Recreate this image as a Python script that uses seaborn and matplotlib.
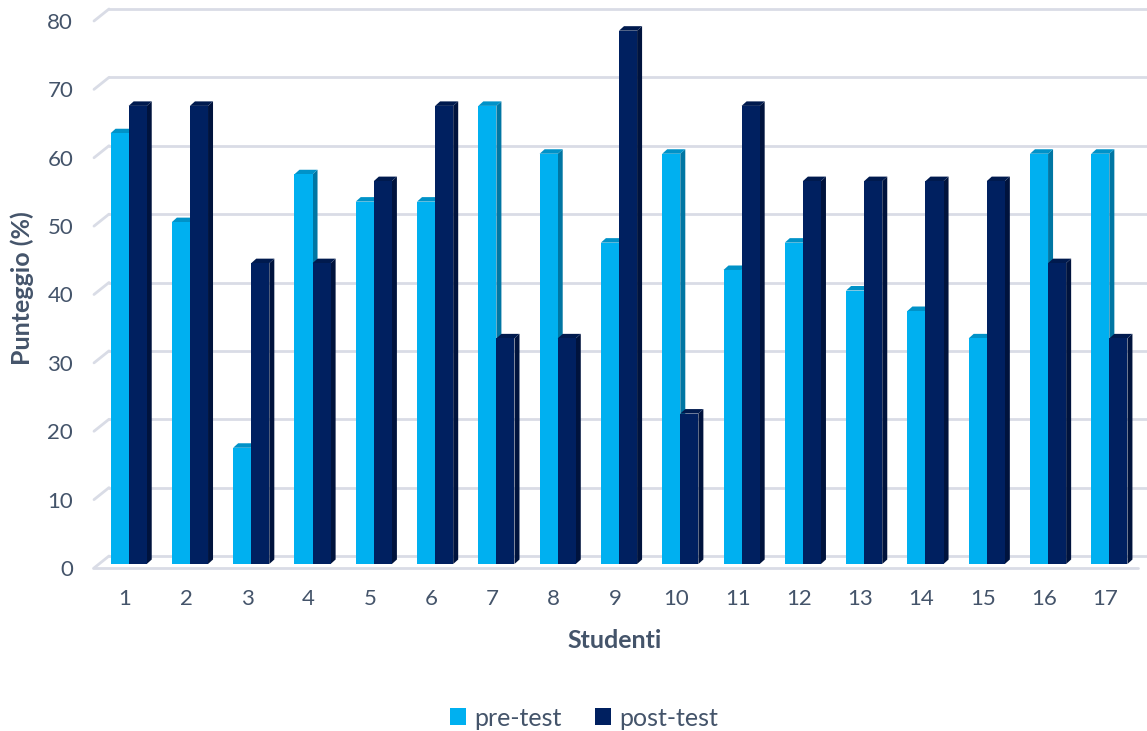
import numpy as np
import pandas as pd
import matplotlib
matplotlib.use("Agg")
import matplotlib.pyplot as plt
from matplotlib.patches import Polygon, Patch
from matplotlib.lines import Line2D
import seaborn as sns

students = [str(i) for i in range(1, 18)]
pre_test = [63, 50, 17, 57, 53, 53, 67, 60, 47, 60, 43, 47, 40, 37, 33, 60, 60]
post_test = [67, 67, 44, 44, 56, 67, 33, 33, 78, 22, 67, 56, 56, 56, 56, 44, 33]
series_names = ["pre-test", "post-test"]
y_ticks = [0, 10, 20, 30, 40, 50, 60, 70, 80]

df = pd.DataFrame({
    "Studenti": students * 2,
    "Punteggio": pre_test + post_test,
    "Serie": [series_names[0]] * len(students) + [series_names[1]] * len(students),
})

front = {"pre-test": "#00B0F0", "post-test": "#002060"}
side = {"pre-test": "#0076A3", "post-test": "#00133D"}
top = {"pre-test": "#0092C8", "post-test": "#001A4E"}
grid_col = "#D9DCE6"
text_col = "#44546A"

sns.set_theme(style="white")
plt.rcParams["font.family"] = ["Lato", "DejaVu Sans"]

W, H, DPI = 1147, 731, 100
fig = plt.figure(figsize=(W / DPI, H / DPI), dpi=DPI)
ax_l, ax_r, ax_b, ax_t = 94, 1136, 568, 21
ax = fig.add_axes([ax_l / W, (H - ax_b) / H, (ax_r - ax_l) / W, (ax_b - ax_t) / H])

sns.barplot(data=df, x="Studenti", y="Punteggio", hue="Serie",
            palette=front, width=0.59, ax=ax, legend=False,
            saturation=1, linewidth=0)

n = len(students)
ax.set_xlim(-0.5, n - 0.5)
ax.set_ylim(0, 80)

# pixel -> data conversion
px_x = (ax_r - ax_l) / n
px_y = (ax_b - ax_t) / 80.0

def dx(p):
    return p / px_x

def dy(p):
    return p / px_y

# back walls / gridlines with oblique depth
gb_x, gb_y = dx(15), dy(12)
x_end = -0.5 + (W - ax_l) / px_x
for v in y_ticks:
    ax.add_line(Line2D([-0.5, -0.5 + gb_x], [v, v + gb_y], color=grid_col,
                       lw=2, clip_on=False, zorder=0.5))
    ax.add_line(Line2D([-0.5 + gb_x, x_end], [v + gb_y, v + gb_y], color=grid_col,
                       lw=2, clip_on=False, zorder=0.5))
ax.add_line(Line2D([-0.5 - dx(1), n - 0.5 + dx(2)], [0, 0], color=grid_col,
                   lw=2, clip_on=False, zorder=0.5))

# turn flat bars into oblique 3D columns
off_x, off_y = dx(4), dy(4)
dep_x, dep_y = dx(5), dy(4.5)
bars = list(ax.patches)
for i, bar in enumerate(bars):
    name = series_names[i // n]
    z = 3 if name == "pre-test" else 4
    x0 = bar.get_x() + off_x
    w = bar.get_width()
    h = bar.get_height()
    b0 = off_y
    bar.set_x(x0)
    bar.set_y(b0)
    bar.set_zorder(z + 0.2)
    h_top = b0 + h
    side_poly = Polygon([[x0 + w, b0], [x0 + w, h_top], [x0 + w + dep_x, h_top + dep_y],
                         [x0 + w + dep_x, b0 + dep_y]], closed=True,
                        facecolor=side[name], edgecolor="none", zorder=z + 0.1)
    top_poly = Polygon([[x0, h_top], [x0 + w, h_top], [x0 + w + dep_x, h_top + dep_y],
                        [x0 + dep_x, h_top + dep_y]], closed=True,
                       facecolor=top[name], edgecolor="none", zorder=z + 0.1)
    ax.add_patch(side_poly)
    ax.add_patch(top_poly)

ax.set_yticks(y_ticks)
ax.set_yticklabels([str(v) for v in y_ticks])
ax.tick_params(axis="y", length=0, pad=15, labelsize=16, labelcolor=text_col)
ax.tick_params(axis="x", length=0, pad=15, labelsize=16, labelcolor=text_col)
for s in ax.spines.values():
    s.set_visible(False)
ax.grid(False)
ax.set_xlabel("")
ax.set_ylabel("")

fig.text(22 / W, 1 - 288 / H, "Punteggio (%)", rotation=90, ha="center", va="center",
         fontsize=18, fontweight="bold", color=text_col)
fig.text(615 / W, 1 - 641 / H, "Studenti", ha="center", va="center",
         fontsize=18, fontweight="bold", color=text_col)

handles = [Patch(facecolor=front[s], edgecolor="none") for s in series_names]
fig.legend(handles, series_names, loc="center", bbox_to_anchor=(584 / W, 1 - 718 / H),
           ncol=2, frameon=False, fontsize=18, handlelength=0.65, handleheight=0.65,
           handletextpad=0.35, columnspacing=1.3, labelcolor=text_col)

fig.savefig("out.png", dpi=DPI)
